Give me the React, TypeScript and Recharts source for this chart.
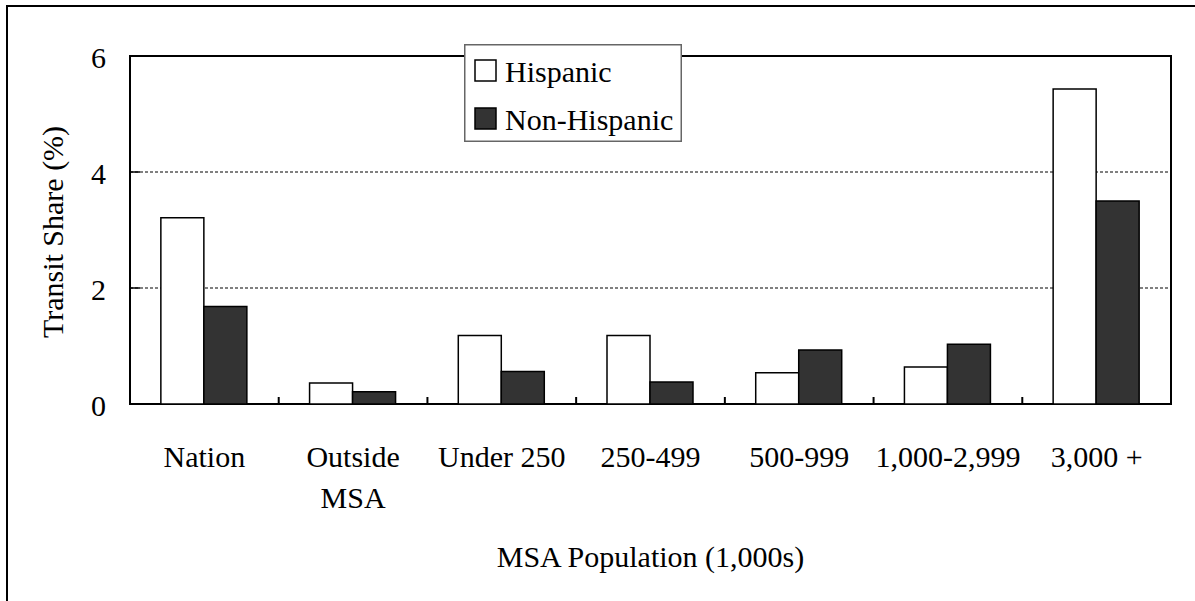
import React from 'react';
import { BarChart, Bar, XAxis, YAxis, CartesianGrid, Legend, ReferenceArea, Label } from 'recharts';

const categories = ['Nation', 'Outside\nMSA', 'Under 250', '250-499', '500-999', '1,000-2,999', '3,000 +'];
const hispanic = [3.21, 0.36, 1.18, 1.18, 0.54, 0.64, 5.43];
const nonHispanic = [1.68, 0.21, 0.56, 0.38, 0.93, 1.03, 3.5];
const yTicks = [0, 2, 4, 6];
const seriesNames = ['Hispanic', 'Non-Hispanic'];
const seriesFills = ['#ffffff', '#333333'];

const data = categories.map((c, i) => ({ name: c, hispanic: hispanic[i], nonHispanic: nonHispanic[i] }));

const FONT = '"Liberation Serif", "Times New Roman", Times, serif';
const FS = 30;
const textStyle: React.CSSProperties = { fontFamily: FONT, fontSize: FS };

const XTick = (props: any) => {
  const { x, y, payload, index, width, visibleTicksCount } = props;
  const half = payload && payload.offset ? payload.offset : width / visibleTicksCount / 2;
  const lines = String(payload.value).split('\n');
  return (
    <g>
      {index > 0 && <line x1={x - half} x2={x - half} y1={y} y2={y - 7} stroke="#000" strokeWidth={2} />}
      <text x={x} y={y + 63} textAnchor="middle" style={textStyle} fill="#000">
        {lines.map((l, i) => (
          <tspan key={i} x={x} dy={i === 0 ? 0 : 41} style={textStyle}>{l}</tspan>
        ))}
      </text>
    </g>
  );
};

const YTick = (props: any) => {
  const { x, y, payload } = props;
  return (
    <g>
      <line x1={x} x2={x + 10} y1={y} y2={y} stroke="#000" strokeWidth={1.5} />
      <text x={x - 24} y={y + 12} textAnchor="end" style={textStyle} fill="#000">{payload.value}</text>
    </g>
  );
};

const YLabel = (props: any) => {
  const vb = props.viewBox || { x: 50, y: 56, width: 80, height: 348 };
  const cx = vb.x + 13;
  const cy = vb.y + vb.height / 2 + 2;
  return (
    <text x={cx} y={cy} transform={`rotate(-90, ${cx}, ${cy})`} textAnchor="middle" style={textStyle} fill="#000">
      Transit Share (%)
    </text>
  );
};

const XLabel = (props: any) => {
  const vb = props.viewBox || { x: 130, y: 404, width: 1041, height: 100 };
  const cx = vb.x + vb.width / 2;
  return (
    <text x={cx} y={vb.y + 163} textAnchor="middle" style={textStyle} fill="#000">
      MSA Population (1,000s)
    </text>
  );
};

const LegendBox = () => (
  <svg width={218} height={98} style={{ display: 'block' }}>
    <rect x={0.75} y={0.75} width={216.5} height={96.5} fill="#fff" stroke="#666" strokeWidth={1.5} />
    {seriesNames.map((n, i) => (
      <g key={n}>
        <rect x={11} y={16 + i * 48} width={21} height={21} fill={seriesFills[i]} stroke="#000" strokeWidth={1.5} />
        <text x={41} y={38 + i * 48} style={textStyle} fill="#000">{n}</text>
      </g>
    ))}
  </svg>
);

export default function App() {
  return (
    <div style={{ position: 'absolute', left: 0, top: 0, width: 1195, height: 601, overflow: 'hidden', background: '#fff', fontFamily: FONT }}>
      <div style={{ position: 'absolute', left: 6, top: 5, width: 1300, height: 700, border: '2px solid #000' }} />
      <div style={{ position: 'absolute', left: 0, top: 0 }}>
        <BarChart
          width={1195}
          height={601}
          data={data}
          margin={{ top: 56, right: 24, bottom: 97, left: 50 }}
          barCategoryGap="20.75%"
          barGap={0}
          style={{ fontFamily: FONT }}
        >
          <CartesianGrid vertical={false} stroke="#000" strokeWidth={1} strokeDasharray="3 2" />
          <XAxis
            dataKey="name"
            height={100}
            axisLine={false}
            tickLine={false}
            tickSize={0}
            tickMargin={0}
            interval={0}
            tick={<XTick />}
            label={<Label content={<XLabel />} />}
          />
          <YAxis
            width={80}
            domain={[0, 6]}
            ticks={yTicks}
            axisLine={false}
            tickLine={false}
            tickSize={0}
            tickMargin={0}
            tick={<YTick />}
            label={<Label content={<YLabel />} />}
          />
          <ReferenceArea y1={0} y2={6} fill="none" fillOpacity={0} stroke="#000" strokeWidth={2} ifOverflow="visible" />
          <Bar dataKey="hispanic" name={seriesNames[0]} fill={seriesFills[0]} stroke="#000" strokeWidth={1.5} isAnimationActive={false} />
          <Bar dataKey="nonHispanic" name={seriesNames[1]} fill={seriesFills[1]} stroke="#000" strokeWidth={1.5} isAnimationActive={false} />
          <Legend
            layout="horizontal"
            verticalAlign="middle"
            align="center"
            content={<LegendBox />}
            wrapperStyle={{ position: 'absolute', left: 464, top: 44, width: 218, height: 98 }}
          />
        </BarChart>
      </div>
    </div>
  );
}
